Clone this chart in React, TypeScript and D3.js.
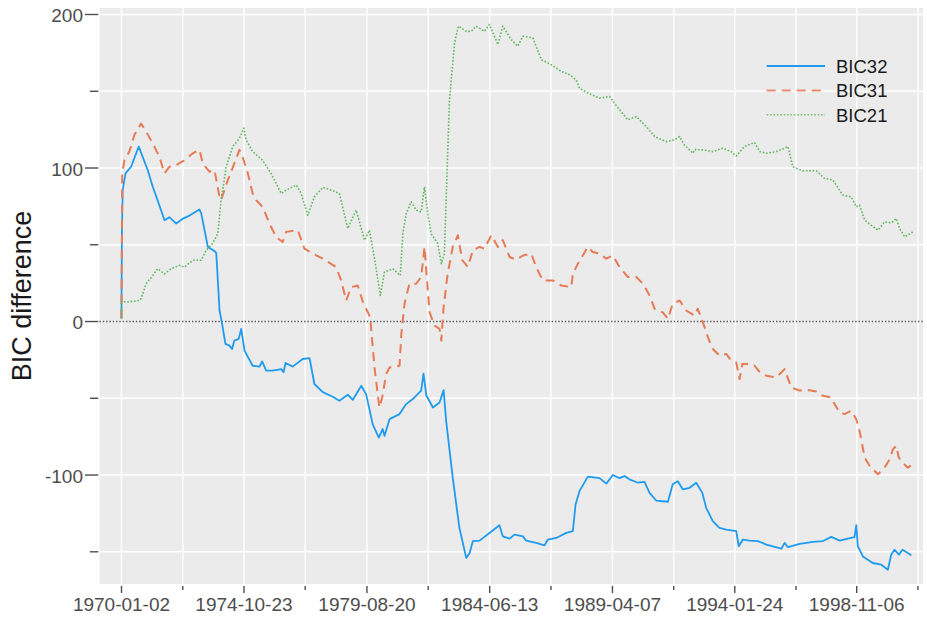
import React from "react";
import * as d3 from "d3";

// decimal year, value
const bic32: [number, number][] = [
  [1970.0, 2], [1970.02, 60], [1970.05, 85.6], [1970.16, 96.5], [1970.38, 100.8], [1970.68, 114], [1970.77, 110],
  [1971.03, 98.7], [1971.23, 87.8], [1971.42, 79], [1971.69, 66], [1971.88, 68], [1972.15, 63.8], [1972.41, 67],
  [1972.67, 69], [1973.06, 73], [1973.13, 70.5], [1973.39, 48.6], [1973.65, 46], [1973.72, 44.6], [1973.85, 7],
  [1973.95, -1.5], [1974.08, -14.6], [1974.24, -15.7], [1974.34, -17.9], [1974.43, -12.4], [1974.6, -11.3],
  [1974.7, -4.8], [1974.83, -19], [1975.15, -28.8], [1975.42, -29.4], [1975.52, -26], [1975.68, -32], [1975.94, -32],
  [1976.27, -31], [1976.36, -33], [1976.44, -27], [1976.72, -29.4], [1977.11, -24.4], [1977.38, -23.8],
  [1977.57, -40.7], [1977.9, -46], [1978.29, -49], [1978.55, -51.6], [1978.88, -47.7], [1979.08, -51],
  [1979.41, -41.8], [1979.6, -47.3], [1979.86, -67], [1980.1, -75.6], [1980.25, -70], [1980.32, -74.5],
  [1980.52, -63.6], [1980.91, -60.3], [1981.17, -53.8], [1981.43, -50.5], [1981.76, -45], [1981.85, -34],
  [1981.96, -48], [1982.22, -56], [1982.48, -52.7], [1982.64, -44.7], [1982.74, -64.7], [1983.0, -101.8],
  [1983.26, -134.4], [1983.53, -154], [1983.66, -150.8], [1983.79, -143], [1984.05, -142.7], [1984.44, -137.7],
  [1984.83, -132.7], [1984.96, -139.9], [1985.23, -141.4], [1985.42, -138.8], [1985.75, -139.9], [1985.88, -142.7],
  [1986.27, -144.2], [1986.6, -145.8], [1986.73, -142], [1987.06, -141], [1987.45, -137.7], [1987.71, -136.6],
  [1987.82, -119], [1987.97, -110.5], [1988.3, -101], [1988.76, -102], [1989.02, -105.6], [1989.28, -100],
  [1989.54, -102], [1989.74, -100.7], [1989.93, -102.8], [1990.26, -105], [1990.52, -104.4], [1990.72, -111.6],
  [1990.98, -116.6], [1991.44, -117.4], [1991.63, -106], [1991.83, -104], [1992.03, -109.4], [1992.29, -108.3],
  [1992.55, -105], [1992.79, -111.6], [1992.94, -121.4], [1993.2, -130], [1993.46, -134.4], [1993.73, -135.5],
  [1994.12, -136.6], [1994.22, -146.4], [1994.38, -142], [1994.64, -142.7], [1994.97, -143], [1995.3, -145.3],
  [1995.89, -148], [1996.02, -144.2], [1996.15, -147], [1996.61, -144.9], [1997.13, -143.6], [1997.52, -143],
  [1997.85, -140.3], [1998.18, -142.7], [1998.5, -141.4], [1998.76, -140.5], [1998.83, -132.7], [1998.89, -146.4],
  [1999.09, -153], [1999.48, -157.3], [1999.81, -158.4], [2000.07, -161.7], [2000.2, -151.9], [2000.33, -148.6],
  [2000.5, -151.9], [2000.64, -148.6], [2000.85, -150.8], [2000.99, -152.3],
];

const bic31: [number, number][] = [
  [1970.0, 2], [1970.03, 96.7], [1970.12, 105], [1970.31, 110.7], [1970.51, 121.6], [1970.77, 129], [1970.97, 123.7],
  [1971.23, 116], [1971.49, 107.4], [1971.69, 96.5], [1971.88, 100.8], [1972.15, 102], [1972.47, 105],
  [1972.8, 109.6], [1973.06, 111.8], [1973.19, 103], [1973.45, 97.6], [1973.65, 98.7], [1973.85, 81], [1973.91, 79],
  [1974.17, 92], [1974.43, 103], [1974.63, 111.8], [1974.76, 107], [1974.96, 96.5], [1975.15, 83.4], [1975.29, 79],
  [1975.54, 74.7], [1975.81, 63.8], [1976.07, 55], [1976.33, 51.8], [1976.46, 58.4], [1976.92, 59.5], [1977.18, 47.5],
  [1977.51, 44.2], [1977.9, 41], [1978.42, 35.5], [1978.62, 26.8], [1978.82, 13.7], [1979.01, 22.4], [1979.27, 23.5],
  [1979.47, 13], [1979.76, 2.8], [1979.93, -29.9], [1980.12, -56], [1980.23, -49.5], [1980.39, -34], [1980.52, -30],
  [1980.91, -28.8], [1980.98, -8], [1981.11, 12], [1981.3, 24.6], [1981.56, 24.6], [1981.76, 29], [1981.89, 48.6],
  [1981.98, 29], [1982.09, 6], [1982.28, -2.6], [1982.48, -4.8], [1982.55, -12.4], [1982.64, 9.4], [1982.8, 31],
  [1983.0, 48.6], [1983.2, 56.2], [1983.37, 40], [1983.59, 35.5], [1983.79, 46.4], [1984.05, 48.6], [1984.24, 47.5],
  [1984.51, 56.2], [1984.77, 48.6], [1984.96, 53], [1985.23, 42], [1985.49, 40.3], [1985.75, 43], [1986.08, 44.2],
  [1986.27, 35.5], [1986.53, 26.8], [1986.92, 26.8], [1987.25, 23.5], [1987.65, 22.4], [1987.71, 31], [1987.91, 37.7],
  [1988.3, 48.6], [1988.49, 45.3], [1988.76, 44.2], [1989.02, 41], [1989.28, 43], [1989.54, 35.5], [1989.87, 29],
  [1990.2, 29], [1990.46, 24.6], [1990.72, 17], [1990.92, 8.3], [1991.24, 6], [1991.44, 1.7], [1991.63, 11.5],
  [1991.9, 13.7], [1992.16, 7.2], [1992.48, 3.9], [1992.61, 8.3], [1992.81, -0.5], [1993.01, -10.3], [1993.2, -17.9],
  [1993.46, -22.2], [1993.73, -21.1], [1993.92, -25.5], [1994.12, -26.6], [1994.25, -37.5], [1994.36, -27.7],
  [1994.64, -27.7], [1994.84, -28.8], [1995.04, -33], [1995.3, -35.3], [1995.69, -36.4], [1996.02, -31],
  [1996.28, -43], [1996.61, -45], [1997.0, -44.7], [1997.26, -45.6], [1997.52, -48.4], [1997.85, -49.5],
  [1997.98, -53.8], [1998.18, -59.3], [1998.37, -60.3], [1998.63, -58.2], [1998.83, -63.6], [1998.96, -71.2],
  [1999.16, -88.7], [1999.35, -94], [1999.68, -99.5], [1999.94, -95.2], [2000.14, -89.7], [2000.27, -83.2],
  [2000.4, -81], [2000.5, -88.7], [2000.66, -92], [2000.85, -95.2], [2001.05, -93],
];

const bic21: [number, number][] = [
  [1970.0, 2], [1970.01, 13.7], [1970.18, 12.6], [1970.71, 13.7], [1970.77, 14.8], [1970.97, 24.6], [1971.23, 30],
  [1971.42, 34.4], [1971.69, 31], [1971.95, 34.4], [1972.28, 36.6], [1972.47, 35.5], [1972.8, 39.9], [1973.13, 39.9],
  [1973.32, 46.4], [1973.58, 50.8], [1973.78, 57.3], [1973.91, 79], [1974.11, 100.8], [1974.37, 114], [1974.63, 119.4],
  [1974.8, 126], [1974.89, 118.3], [1975.15, 110.7], [1975.54, 105], [1975.87, 96.5], [1976.27, 83.4], [1976.46, 85.6],
  [1976.86, 88.9], [1977.05, 83.4], [1977.31, 69.3], [1977.57, 81.2], [1977.9, 87.4], [1978.23, 85.6], [1978.55, 83.4],
  [1978.88, 60.6], [1979.21, 72.5], [1979.54, 53], [1979.73, 59.5], [1979.93, 41], [1980.16, 17], [1980.32, 32.2],
  [1980.65, 34.4], [1980.94, 30], [1981.04, 57.3], [1981.17, 70.4], [1981.37, 78], [1981.56, 72.5], [1981.76, 71.4],
  [1981.89, 87.8], [1982.02, 70.4], [1982.15, 57.3], [1982.41, 50.8], [1982.55, 37.7], [1982.67, 44.2],
  [1982.87, 144.4], [1983.07, 181.5], [1983.22, 192.4], [1983.53, 189], [1983.72, 189], [1983.92, 192.4],
  [1984.24, 189], [1984.44, 193.5], [1984.77, 180.4], [1984.96, 192.4], [1985.29, 183.7], [1985.55, 179.3],
  [1985.75, 185.8], [1986.14, 184.8], [1986.47, 170.6], [1986.86, 167.3], [1987.25, 163], [1987.58, 160.8],
  [1987.84, 157.5], [1987.97, 152], [1988.3, 148.8], [1988.76, 145.5], [1989.15, 146.6], [1989.54, 137.9],
  [1989.87, 131.4], [1990.2, 133.5], [1990.59, 127], [1990.92, 120.5], [1991.37, 117.2], [1991.7, 118.3],
  [1991.9, 120.5], [1992.09, 115], [1992.42, 109.6], [1992.49, 112], [1992.81, 111.8], [1993.2, 110.7],
  [1993.59, 112.9], [1993.92, 110.7], [1994.12, 107.8], [1994.44, 114], [1994.84, 116.6], [1995.04, 110.7],
  [1995.3, 109.6], [1995.69, 110.7], [1996.02, 112.9], [1996.15, 114], [1996.34, 100.8], [1996.73, 98.2],
  [1997.26, 98.2], [1997.58, 93.3], [1997.91, 92.2], [1998.3, 82.4], [1998.63, 81.2], [1998.83, 74.7], [1998.96, 75.8],
  [1999.16, 66], [1999.42, 62.7], [1999.68, 59.5], [1999.94, 64.9], [2000.21, 64.3], [2000.4, 67.1], [2000.53, 60.6],
  [2000.73, 55.1], [2001.05, 58.4],
];

const xTickLabels = ["1970-01-02", "1974-10-23", "1979-08-20", "1984-06-13", "1989-04-07", "1994-01-24", "1998-11-06"];
const yMajorTicks = [-100, 0, 100, 200];
const yMinorTicks = [-150, -50, 50, 150];
const seriesNames = ["BIC32", "BIC31", "BIC21"];

const W = 927;
const H = 617;
const panel = { left: 99.5, right: 923, top: 8, bottom: 584 };

const parseDate = (s: string) => {
  const [y, m, d] = s.split("-").map(Number);
  return new Date(Date.UTC(y, m - 1, d));
};
const fromDecYear = (t: number) => {
  const y = Math.floor(t);
  const start = Date.UTC(y, 0, 1);
  const end = Date.UTC(y + 1, 0, 1);
  return new Date(start + (t - y) * (end - start));
};

export default function App() {
  const majorDates = xTickLabels.map(parseDate);
  const x = d3
    .scaleUtc()
    .domain([majorDates[0], majorDates[majorDates.length - 1]])
    .range([121.5, 856.7]);
  const y = d3.scaleLinear().domain([200, -150]).range([14.5, 551.8]);

  const step = (majorDates[1].getTime() - majorDates[0].getTime()) / 2;
  const minorDates: Date[] = [];
  for (let i = 0; i < majorDates.length; i++) {
    minorDates.push(new Date(majorDates[i].getTime() + step));
  }
  const minorVisible = minorDates.filter((d) => x(d) < panel.right);

  const line = d3
    .line<[number, number]>()
    .x((d) => x(fromDecYear(d[0])))
    .y((d) => y(d[1]))
    .curve(d3.curveLinear);

  const colors = ["#1f9bf0", "#e87b55", "#5fb85f"];
  const dashes = ["", "9,6", "1.6,1.8"];
  const widths = [1.8, 2, 1.6];
  const data = [bic32, bic31, bic21];

  const font = "'Liberation Sans', Arial, Helvetica, sans-serif";
  const tickColor = "#4d4d4d";

  return (
    <svg
      width={W}
      height={H}
      style={{ position: "absolute", left: 0, top: 0, background: "#fff" }}
      fontFamily={font}
    >
      <rect
        x={panel.left}
        y={panel.top}
        width={panel.right - panel.left}
        height={panel.bottom - panel.top}
        fill="#ebebeb"
      />
      <defs>
        <clipPath id="clip">
          <rect x={panel.left} y={panel.top} width={panel.right - panel.left} height={panel.bottom - panel.top} />
        </clipPath>
      </defs>
      {/* grid */}
      <g stroke="#ffffff" strokeWidth={1.4}>
        {[...yMajorTicks, ...yMinorTicks].map((v) => (
          <line key={"gy" + v} x1={panel.left} x2={panel.right} y1={y(v)} y2={y(v)} />
        ))}
        {[...majorDates, ...minorVisible].map((d, i) => (
          <line key={"gx" + i} x1={x(d)} x2={x(d)} y1={panel.top} y2={panel.bottom} />
        ))}
      </g>
      {/* zero line */}
      <line
        x1={panel.left}
        x2={panel.right}
        y1={y(0)}
        y2={y(0)}
        stroke="#555"
        strokeWidth={1.4}
        strokeDasharray="1.5,1.8"
      />
      {/* series */}
      <g clipPath="url(#clip)" fill="none" strokeLinejoin="round">
        {data.map((ser, i) => (
          <path
            key={i}
            d={line(ser) || ""}
            stroke={colors[i]}
            strokeWidth={widths[i]}
            strokeDasharray={dashes[i] || undefined}
          />
        ))}
      </g>
      {/* y axis */}
      <g stroke={tickColor} strokeWidth={1.4}>
        {yMajorTicks.map((v) => (
          <line key={"ty" + v} x1={85} x2={98.3} y1={y(v)} y2={y(v)} />
        ))}
        {yMinorTicks.map((v) => (
          <line key={"tym" + v} x1={90} x2={98.3} y1={y(v)} y2={y(v)} />
        ))}
        {majorDates.map((d, i) => (
          <line key={"tx" + i} x1={x(d)} x2={x(d)} y1={586} y2={593} />
        ))}
        {minorVisible.map((d, i) => (
          <line key={"txm" + i} x1={x(d)} x2={x(d)} y1={586} y2={590} />
        ))}
      </g>
      <g fill={tickColor} fontSize={19}>
        {yMajorTicks.map((v) => (
          <text key={"ly" + v} x={83} y={y(v) + 7.5} textAnchor="end">
            {String(v)}
          </text>
        ))}
        {majorDates.map((d, i) => (
          <text key={"lx" + i} x={x(d)} y={611} textAnchor="middle">
            {xTickLabels[i]}
          </text>
        ))}
      </g>
      <text
        transform={`translate(31, ${(panel.top + panel.bottom) / 2}) rotate(-90)`}
        textAnchor="middle"
        fontSize={27}
        fill="#1a1a1a"
      >
        BIC difference
      </text>
      {/* legend */}
      <g>
        {seriesNames.map((name, i) => {
          const ly = 66 + i * 24.4;
          return (
            <g key={name}>
              <line
                x1={766.7}
                x2={825}
                y1={ly}
                y2={ly}
                stroke={colors[i]}
                strokeWidth={widths[i]}
                strokeDasharray={dashes[i] || undefined}
                opacity={i === 0 ? 1 : 0.85}
              />
              <text x={836} y={ly + 7} fontSize={18.5} fill="#1a1a1a">
                {name}
              </text>
            </g>
          );
        })}
      </g>
    </svg>
  );
}
